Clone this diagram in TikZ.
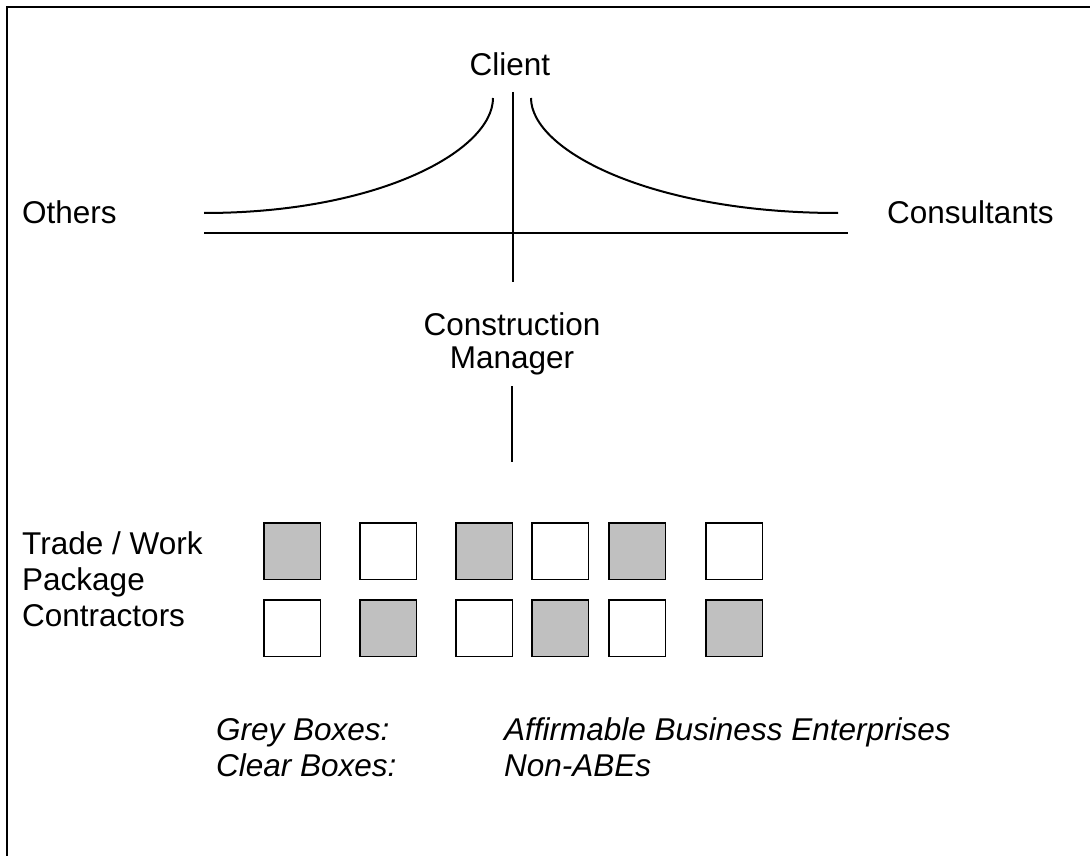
\documentclass[tikz,border=0pt]{standalone}
\usepackage{fontspec}
\setmainfont{Liberation Sans}
\definecolor{boxgrey}{HTML}{C0C0C0}
\begin{document}
\begin{tikzpicture}[x=1pt,y=-1pt,
  every node/.style={inner sep=0pt, font=\fontsize{31.5}{36}\selectfont},
  conn/.style={line width=2pt},
  frame/.style={line width=2.6pt},
  cbox/.style={draw, line width=1.8pt, minimum size=56.5pt, anchor=north west},
  gbox/.style={cbox, fill=boxgrey},
  wbox/.style={cbox, fill=white},
  legend/.style={font=\fontsize{31.5}{36}\selectfont\itshape, anchor=base west}]
\useasboundingbox (0,0) rectangle (1090,856);
\fill[white] (0,0) rectangle (1090,856);
% frame (right and bottom edges lie outside the picture)
\coordinate (fbl) at (7,856);
\coordinate (ftl) at (7,7);
\coordinate (ftr) at (1090,7);
\draw[frame] (fbl) -- (ftl) -- (ftr);

% labels
\node[anchor=base] (client) at (510,76) {Client};
\node[anchor=base west] (others) at (22,223) {Others};
\node[anchor=base west] (consult) at (887,223) {Consultants};
\node[anchor=base] (cm1) at (512,335) {Construction};
\node[anchor=base] (cm2) at (512,368) {Manager};
\node[anchor=base west] (tr1) at (22,554) {Trade / Work};
\node[anchor=base west] (tr2) at (22,590) {Package};
\node[anchor=base west] (tr3) at (22,626) {Contractors};

% connector coordinates
\coordinate (vtop) at (513,92);
\coordinate (vbot) at (513,282);
\coordinate (hl) at (204,233);
\coordinate (hr) at (848,233);
\coordinate (lcs) at (204,213);
\coordinate (lce) at (493,98);
\coordinate (rcs) at (531,98);
\coordinate (rce) at (838,213);
\coordinate (mtop) at (512,386);
\coordinate (mbot) at (512,462);

\draw[conn] (vtop) -- (vbot);
\draw[conn] (hl) -- (hr);
\draw[conn] (lcs) .. controls (380,213) and (493,150) .. (lce);
\draw[conn] (rcs) .. controls (531,150) and (650,213) .. (rce);
\draw[conn] (mtop) -- (mbot);

% boxes
\node[gbox] (b11) at (263,522) {};
\node[wbox] (b12) at (359,522) {};
\node[gbox] (b13) at (455,522) {};
\node[wbox] (b14) at (531,522) {};
\node[gbox] (b15) at (608,522) {};
\node[wbox] (b16) at (705,522) {};
\node[wbox] (b21) at (263,599) {};
\node[gbox] (b22) at (359,599) {};
\node[wbox] (b23) at (455,599) {};
\node[gbox] (b24) at (531,599) {};
\node[wbox] (b25) at (608,599) {};
\node[gbox] (b26) at (705,599) {};

% legend
\node[legend] (lg1) at (216,740) {Grey Boxes:};
\node[legend] (lg2) at (504,740) {Affirmable Business Enterprises};
\node[legend] (lg3) at (216,776) {Clear Boxes:};
\node[legend] (lg4) at (504,776) {Non-ABEs};
\end{tikzpicture}
\end{document}
